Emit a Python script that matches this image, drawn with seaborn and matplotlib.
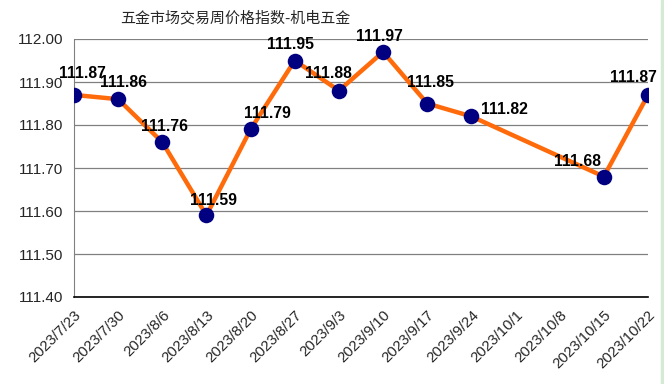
import numpy as np
import pandas as pd
import seaborn as sns
import matplotlib.pyplot as plt
from matplotlib.patches import Rectangle

# ── DATA ───────────────────────────────────────────────
dates = ["2023/7/23", "2023/7/30", "2023/8/6", "2023/8/13", "2023/8/20",
         "2023/8/27", "2023/9/3", "2023/9/10", "2023/9/17", "2023/9/24",
         "2023/10/1", "2023/10/8", "2023/10/15", "2023/10/22"]
values = [111.87, 111.86, 111.76, 111.59, 111.79, 111.95, 111.88,
          111.97, 111.85, 111.82, np.nan, np.nan, 111.68, 111.87]
y_ticks = [111.40, 111.50, 111.60, 111.70, 111.80, 111.90, 112.00]

# label centre offsets in pixels (dx, dy up)
label_offsets = [(8, 21), (5, 17), (2, 16), (7, 15), (17, 16), (-4, 16), (-10, 17),
                 (-4, 15), (3, 21), (33, 7), None, None, (-26, 15), (-15, 17)]

df = pd.DataFrame({"pos": range(len(dates)), "value": values}).dropna()

# ── PLOT ───────────────────────────────────────────────
sns.set_style("white")
plt.rcParams["font.family"] = ["Liberation Sans", "DejaVu Sans"]

fig = plt.figure(figsize=(6.64, 3.84), dpi=100)
ax = fig.add_axes([74 / 664, 1 - 297 / 384, 574 / 664, 258 / 384])

sns.lineplot(data=df, x="pos", y="value", ax=ax, color="#FF6A0A", linewidth=3.2)
sns.scatterplot(data=df, x="pos", y="value", ax=ax, color="#000080", s=125,
                edgecolor="#000080", linewidth=0, zorder=3)

for _, row in df.iterrows():
    dx, dy = label_offsets[int(row["pos"])]
    ax.annotate(f"{row['value']:.2f}", (row["pos"], row["value"]),
                xytext=(dx * 0.72, dy * 0.72), textcoords="offset points",
                ha="center", va="center", fontsize=11.3, fontweight="bold",
                color="black", zorder=4, annotation_clip=False)

ax.set_xlim(0, len(dates) - 1)
ax.set_ylim(111.40, 112.00)
ax.set_xticks(range(len(dates)))
ax.set_xticklabels(dates, rotation=45, ha="right", rotation_mode="anchor", fontsize=10.8)
ax.set_yticks(y_ticks)
ax.set_yticklabels([f"{v:.2f}" for v in y_ticks], fontsize=11)
ax.tick_params(axis="both", length=0, pad=8)
ax.set_xlabel("")
ax.set_ylabel("")
ax.grid(axis="y", color="#808080", linewidth=0.9)
ax.set_axisbelow(True)
for s in ["top", "right"]:
    ax.spines[s].set_visible(False)
ax.spines["left"].set_color("#808080")
ax.spines["bottom"].set_color("black")
ax.spines["bottom"].set_linewidth(1.2)

fig.text(235 / 664, 1 - 18 / 384, "五金市场交易周价格指数-机电五金", ha="center", va="center",
         fontsize=10.8, family=["Noto Sans CJK SC", "DejaVu Sans"])

# spreadsheet edge on the right
fig.patches.append(Rectangle((661 / 664, 0), 3 / 664, 1, transform=fig.transFigure,
                             color="#D4EAD4", zorder=0))

plt.savefig("out.png", dpi=100)
